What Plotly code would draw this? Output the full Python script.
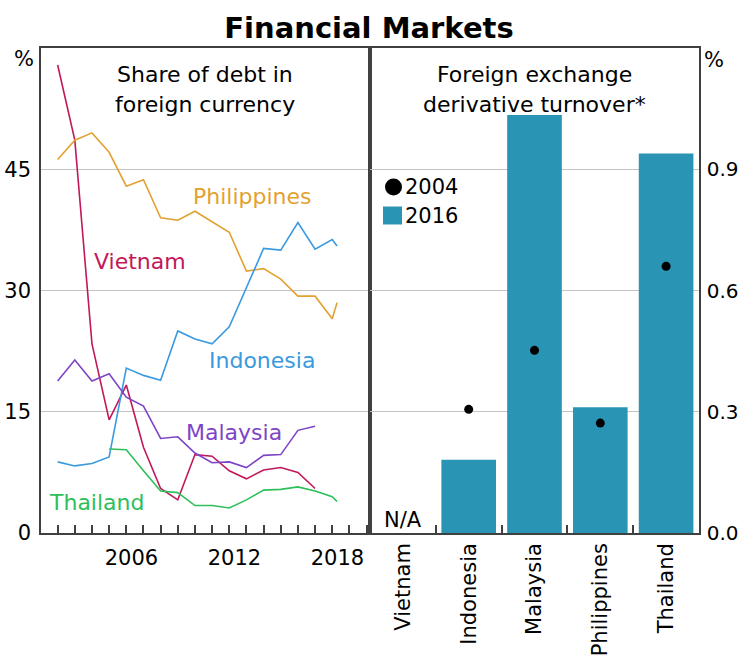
import plotly.graph_objects as go

# ---------------- data ----------------
years = [2002, 2003, 2004, 2005, 2006, 2007, 2008, 2009, 2010, 2011,
         2012, 2013, 2014, 2015, 2016, 2017, 2018, 2018.28]

vietnam = [57.9, 48.6, 23.4, 14.0, 18.3, 10.6, 5.5, 4.1, 9.7, 9.5,
           7.7, 6.7, 7.8, 8.1, 7.5, 5.5, None, None]
philippines = [46.2, 48.6, 49.5, 47.1, 42.9, 43.7, 39.0, 38.7, 39.8, 38.5,
               37.2, 32.4, 32.7, 31.4, 29.3, 29.3, 26.5, 28.5]
indonesia = [8.8, 8.3, 8.6, 9.4, 20.4, 19.5, 18.9, 25.0, 24.0, 23.4,
             25.5, 30.4, 35.2, 35.0, 38.4, 35.1, 36.3, 35.5]
malaysia = [18.8, 21.4, 18.8, 19.7, 16.8, 15.7, 11.7, 11.9, 9.9, 8.7,
            8.8, 8.1, 9.6, 9.7, 12.7, 13.2, None, 10.7]
thailand = [None, None, None, 10.4, 10.3, 7.7, 5.2, 5.0, 3.4, 3.4,
            3.1, 4.1, 5.3, 5.4, 5.7, 5.2, 4.5, 3.9]

countries = ["Vietnam", "Indonesia", "Malaysia", "Philippines", "Thailand"]
fx_2016 = [None, 0.181, 1.034, 0.311, 0.939]
fx_2004 = [None, 0.306, 0.452, 0.272, 0.660]

left_ticks = [0, 15, 30, 45]
right_ticks = [0.0, 0.3, 0.6, 0.9]
year_ticks = list(range(2002, 2021))
year_labels = ["2006", "2012", "2018"]
year_label_pos = [2006.3, 2012.3, 2018.3]

# ---------------- style ----------------
FONT = "DejaVu Sans"
C_VN = "#c2185b"
C_PH = "#e2a130"
C_ID = "#3a9ae0"
C_MY = "#7d45c6"
C_TH = "#2ebf5a"
C_BAR = "#2a94b4"
FRAME = "#404040"
GRID = "#c4c4c4"

fig = go.Figure()

for name, vals, col in [("Vietnam", vietnam, C_VN), ("Philippines", philippines, C_PH),
                        ("Indonesia", indonesia, C_ID), ("Malaysia", malaysia, C_MY),
                        ("Thailand", thailand, C_TH)]:
    fig.add_trace(go.Scatter(x=years, y=vals, mode="lines", name=name,
                             line=dict(color=col, width=1.6),
                             connectgaps=False, showlegend=False,
                             xaxis="x", yaxis="y"))

fig.add_trace(go.Bar(x=countries, y=fx_2016, name="2016", marker=dict(color=C_BAR, line=dict(width=0)),
                     showlegend=False, xaxis="x2", yaxis="y2"))
fig.add_trace(go.Scatter(x=countries, y=fx_2004, name="2004", mode="markers",
                         marker=dict(color="black", size=9), showlegend=False,
                         xaxis="x2", yaxis="y2"))

axfont = dict(family=FONT, size=21, color="black")
axfont_r = dict(family=FONT, size=20, color="black")

fig.update_layout(
    template="none",
    width=738, height=659,
    margin=dict(l=41, r=39, t=48, b=126, autoexpand=False),
    paper_bgcolor="white", plot_bgcolor="white",
    font=dict(family=FONT, color="black"),
    bargap=0.17,
    title=dict(text="<b>Financial Markets</b>", x=0.5, xanchor="center",
               y=1 - 28 / 659, yanchor="middle", yref="container",
               font=dict(family=FONT, size=29, color="black")),
    # year ticks (no labels)
    xaxis=dict(domain=[0, 0.5], range=[2001.03, 2020.2], tickvals=year_ticks,
               showticklabels=False, ticks="inside", ticklen=8, tickcolor=FRAME,
               tickwidth=1.5, showgrid=False, zeroline=False, automargin=False,
               showline=True, linecolor=FRAME, linewidth=1.5, mirror=True),
    # year labels (no ticks)
    xaxis3=dict(domain=[0, 0.5], range=[2001.03, 2020.2], overlaying="x",
                anchor="y", side="bottom", tickvals=year_label_pos,
                ticktext=year_labels, ticks="", showgrid=False, zeroline=False,
                showline=False, automargin=False, tickfont=axfont,
                ticklabelstandoff=10),
    yaxis=dict(domain=[0, 1], range=[0, 60], tickvals=left_ticks, ticks="",
               showgrid=True, gridcolor=GRID, gridwidth=1, zeroline=False,
               showline=True, linecolor=FRAME, linewidth=1.5, mirror=True,
               tickfont=axfont, ticklabelstandoff=4, automargin=False),
    xaxis2=dict(domain=[0.5, 1], anchor="y2", type="category",
                categoryorder="array", categoryarray=countries,
                tickson="boundaries", ticks="inside", ticklen=8, tickcolor=FRAME,
                tickwidth=1.5, tickangle=-90, showgrid=False, zeroline=False,
                showline=True, linecolor=FRAME, linewidth=1.5, mirror=True,
                tickfont=axfont, automargin=False),
    yaxis2=dict(domain=[0, 1], anchor="x2", side="right", range=[0, 1.2],
                tickvals=right_ticks, tickformat=".1f", ticks="",
                showgrid=True, gridcolor=GRID, gridwidth=1, zeroline=False,
                showline=True, linecolor=FRAME, linewidth=1.5, mirror=True,
                tickfont=axfont_r, ticklabelstandoff=2, automargin=False),
)

# invisible trace to activate the label axis
fig.add_trace(go.Scatter(x=[2010], y=[None], mode="lines", showlegend=False,
                         xaxis="x3", yaxis="y", hoverinfo="skip"))

def ann(text, x, y, xref, yref, size=22, color="black", xanchor="center", yanchor="middle", **kw):
    fig.add_annotation(text=text, x=x, y=y, xref=xref, yref=yref, showarrow=False,
                       xanchor=xanchor, yanchor=yanchor,
                       font=dict(family=FONT, size=size, color=color), **kw)

W, H = 658, 485
def px(xp):
    return (xp - 41) / W
def py(yp):
    return (533 - yp) / H

# panel subtitles
ann("Share of debt in", px(205), py(74), "paper", "paper")
ann("foreign currency", px(205), py(104), "paper", "paper")
ann("Foreign exchange", px(534), py(74), "paper", "paper")
ann("derivative turnover*", px(534), py(104), "paper", "paper")

# % units
ann("%", px(36), py(59), "paper", "paper", size=21, xanchor="right")
ann("%", px(702), py(60), "paper", "paper", size=21, xanchor="left")

# series labels
ann("Philippines", 2013.37, 41.6, "x", "y", color=C_PH)
ann("Vietnam", 2006.79, 33.6, "x", "y", color=C_VN)
ann("Indonesia", 2013.88, 21.4, "x", "y", color=C_ID)
ann("Malaysia", 2012.27, 12.4, "x", "y", color=C_MY)
ann("Thailand", 2004.27, 3.8, "x", "y", color=C_TH)

# N/A
ann("N/A", "Vietnam", 0, "x2", "y2", size=21, yanchor="bottom", yshift=-1)

# legend
fig.add_shape(type="circle", xref="paper", yref="paper",
              xsizemode="pixel", ysizemode="pixel",
              xanchor=px(393.5), yanchor=py(187), x0=-8.5, x1=8.5, y0=-8.5, y1=8.5,
              fillcolor="black", line=dict(width=0))
fig.add_shape(type="rect", xref="paper", yref="paper",
              xsizemode="pixel", ysizemode="pixel",
              xanchor=px(392.5), yanchor=py(215.5), x0=-9.5, x1=9.5, y0=-9, y1=9,
              fillcolor=C_BAR, line=dict(width=0))
ann("2004", px(403), py(187), "paper", "paper", size=21, xanchor="left")
ann("2016", px(403), py(215.5), "paper", "paper", size=21, xanchor="left")

fig.write_html("out.html", config={"displayModeBar": False},
               post_script="document.body.style.margin='0';")
